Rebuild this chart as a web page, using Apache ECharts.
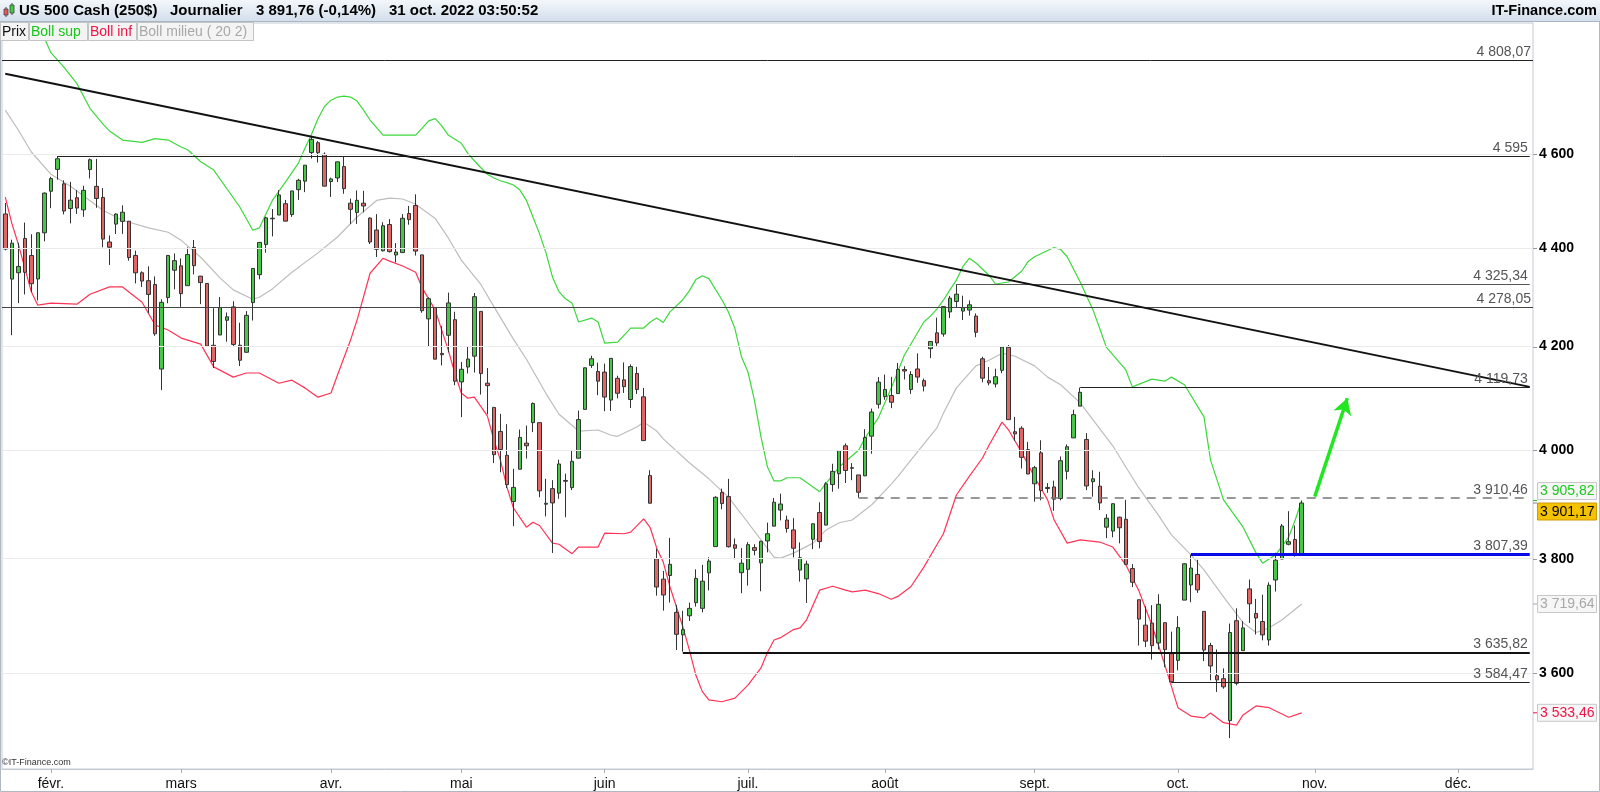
<!DOCTYPE html>
<html>
<head>
<meta charset="utf-8">
<script src="https://cdn.jsdelivr.net/npm/echarts@6.0.0/dist/echarts.min.js"></script>
<style>
html,body{margin:0;padding:0;background:#fff;}
#chart{width:1600px;height:792px;}
</style>
</head>
<body>
<div id="chart"></div>
<script>
// ---------- DATA ----------
const monthDays = {
  '2022-01':[21,24,25,26,27,28,31],
  '2022-02':[1,2,3,4,7,8,9,10,11,14,15,16,17,18,21,22,23,24,25,28],
  '2022-03':[1,2,3,4,7,8,9,10,11,14,15,16,17,18,21,22,23,24,25,28,29,30,31],
  '2022-04':[1,4,5,6,7,8,11,12,13,14,18,19,20,21,22,25,26,27,28,29],
  '2022-05':[2,3,4,5,6,9,10,11,12,13,16,17,18,19,20,23,24,25,26,27,30,31],
  '2022-06':[1,2,3,6,7,8,9,10,13,14,15,16,17,20,21,22,23,24,27,28,29,30],
  '2022-07':[1,4,5,6,7,8,11,12,13,14,15,18,19,20,21,22,25,26,27,28,29],
  '2022-08':[1,2,3,4,5,8,9,10,11,12,15,16,17,18,19,22,23,24,25,26,29,30,31],
  '2022-09':[1,2,5,6,7,8,9,12,13,14,15,16,19,20,21,22,23,26,27,28,29,30],
  '2022-10':[3,4,5,6,7,10,11,12,13,14,17,18,19,20,21,24,25,26,27,28,31],
  '2022-11':[1,2,3,4,7,8,9,10,11,14,15,16,17,18,21,22,23,24,25,28,29,30],
  '2022-12':[1,2,5,6,7,8,9,12,13,14,15,16]
};
const monthNames = ['janv.','févr.','mars','avr.','mai','juin','juil.','août','sept.','oct.','nov.','déc.'];

// daily candles [open, high, low, close], from 2022-01-21 to 2022-10-28
const candles = [
[4471.38,4494.52,4395.34,4397.94],[4336,4417.35,4222.62,4410.13],[4349,4411.01,4287.11,4362],[4420,4453.23,4304.80,4349.93],
[4384.57,4428.74,4309.50,4326.51],[4336.19,4432.72,4292.46,4431.85],[4431.79,4516.89,4414.02,4515.55],
[4519.57,4550.49,4483.53,4546.54],[4566.39,4595.31,4544.32,4589.38],[4535.41,4542.88,4470.39,4477.44],[4482.79,4539.66,4451.50,4500.53],
[4505.75,4521.86,4471.47,4483.87],[4480.02,4531.32,4465.40,4521.54],[4566,4590.03,4547.00,4587.18],[4530,4588.92,4484.31,4504.08],
[4506.27,4526.33,4401.41,4418.64],[4412.61,4426.22,4364.84,4401.67],[4450,4472.77,4429.28,4471.07],[4455.75,4489.55,4429.68,4475.01],
[4456.06,4456.06,4373.81,4380.26],[4384.57,4394.60,4327.22,4348.87],[4349,4352,4320,4332],[4332.74,4362.12,4267.11,4304.76],
[4324.93,4341.51,4221.51,4225.50],[4155.77,4294.73,4114.65,4288.70],[4298.38,4385.34,4286.83,4384.65],[4354.17,4388.84,4315.12,4373.94],
[4363.14,4378.45,4279.54,4306.26],[4322.56,4401.48,4322.56,4386.54],[4401.31,4416.78,4345.56,4363.49],[4342.12,4342.12,4284.98,4328.87],
[4327.01,4327.01,4199.85,4201.09],[4202.66,4276.94,4157.87,4170.70],[4223.10,4299.40,4223.10,4277.88],[4252.55,4268.28,4209.80,4259.52],
[4279.50,4291.01,4200.49,4204.31],[4202.75,4247.57,4161.72,4173.11],[4188.82,4271.05,4187.90,4262.45],[4288.14,4357.86,4251.99,4357.86],
[4345.11,4412.67,4335.65,4411.67],[4407.34,4465.40,4390.57,4463.12],[4462.40,4481.75,4424.30,4461.18],[4469.10,4522.00,4469.10,4511.61],
[4493.10,4501.07,4455.81,4456.24],[4469.98,4520.58,4465.17,4520.16],[4522.91,4546.03,4501.07,4543.06],[4541.09,4575.65,4517.69,4575.52],
[4602.86,4637.30,4589.66,4631.60],[4624.20,4627.77,4581.32,4602.45],[4599.02,4603.07,4530.41,4530.41],
[4540.32,4548.70,4507.57,4545.86],[4547.97,4583.50,4539.21,4582.64],[4572.45,4593.45,4514.17,4525.12],[4494.17,4503.94,4450.04,4481.15],
[4474.65,4521.16,4450.30,4500.21],[4494.15,4520.41,4474.60,4488.28],[4462.64,4464.35,4408.38,4412.53],[4437.59,4471.00,4381.34,4397.45],
[4394.30,4453.92,4392.70,4446.59],[4449.12,4460.46,4390.77,4392.59],[4385.63,4410.31,4370.30,4391.69],[4390.63,4471.03,4390.63,4462.21],
[4472.26,4488.29,4448.76,4459.45],[4489.17,4512.94,4384.47,4393.66],[4385.83,4385.83,4267.62,4271.78],[4255.34,4299.02,4200.82,4296.12],
[4278.14,4278.14,4175.04,4175.20],[4186.52,4240.71,4162.90,4183.96],[4222.58,4308.45,4188.63,4287.50],[4253.75,4269.68,4124.28,4131.93],
[4130.61,4169.81,4062.51,4155.38],[4159.78,4200.10,4147.08,4175.48],[4181.18,4307.66,4148.91,4300.17],[4270.43,4270.43,4106.01,4146.87],
[4128.17,4157.69,4067.91,4123.34],[4081.27,4081.27,3975.48,3991.24],[4035.18,4068.82,3958.17,4001.05],[3990.08,4049.09,3928.82,3935.18],
[3903.95,3964.80,3858.87,3930.08],[3963.90,4038.88,3963.90,4023.89],[4013.02,4046.46,3983.99,4008.01],[4052.00,4090.72,4033.93,4088.85],
[4051.98,4051.98,3911.91,3923.68],[3899.00,3945.96,3876.58,3900.79],[3927.76,3943.42,3810.32,3901.36],[3919.42,3981.88,3909.04,3973.75],
[3942.94,3955.68,3875.13,3941.48],[3929.59,3999.33,3925.03,3978.73],[3984.60,4075.14,3984.60,4057.84],[4077.43,4158.49,4077.43,4158.24],
[4163,4182,4158,4176],[4151.09,4168.34,4104.88,4132.15],
[4149.78,4166.54,4073.85,4101.23],[4095.41,4177.51,4074.37,4176.82],[4137.57,4142.67,4098.67,4108.54],[4134.72,4168.78,4109.18,4121.43],
[4096.47,4164.86,4080.19,4160.68],[4147.12,4160.14,4107.20,4115.77],[4101.65,4119.10,4017.17,4017.82],[3952,3962,3900.16,3900.86],
[3800,3818,3734.30,3749.63],[3763.52,3778.18,3708,3735.48],[3770,3837.56,3722.30,3789.99],[3705,3718,3639.77,3666.77],
[3665.90,3707.71,3636.87,3674.84],[3699,3722,3690,3712],[3722,3781,3715,3764.79],[3712,3789,3705,3759.89],
[3774.71,3802.58,3743.52,3795.73],[3821.75,3913.65,3821.75,3911.74],[3920.76,3927.72,3889.66,3900.11],[3913.00,3945.86,3820.14,3821.55],
[3825.09,3836.50,3799.02,3818.83],[3775,3818.99,3738.67,3792],
[3781.00,3829.82,3752.10,3825.33],[3820,3826,3806,3815],[3792.61,3832.19,3742.06,3831.39],[3831.98,3865.26,3811.39,3845.08],
[3858.85,3910.63,3858.85,3902.62],[3888.26,3918.50,3869.34,3899.38],[3870,3878,3847.22,3854.43],[3851.95,3873.41,3802.36,3818.80],
[3779.67,3829.44,3759.07,3801.78],[3763.99,3796.41,3721.56,3790.38],[3835,3863.62,3817.18,3863.16],[3883.79,3902.44,3818.63,3830.85],
[3860.73,3939.81,3860.73,3936.69],[3935.32,3974.13,3922.03,3959.90],[3955.47,3999.29,3927.64,3998.95],[4007.98,4012.44,3938.24,3961.63],
[3965.72,3975.30,3943.46,3966.84],[3953.22,3953.22,3910.74,3921.05],[3951.43,4039.56,3951.43,4023.61],[4026.13,4078.95,3992.97,4072.43],
[4087.33,4140.15,4079.22,4130.29],
[4102,4144.95,4096.02,4116],[4104.21,4140.47,4079.81,4091.19],[4107.96,4167.66,4107.96,4155.17],[4154.85,4161.29,4135.42,4151.94],
[4115.87,4151.58,4107.31,4145.19],[4155.93,4186.62,4128.97,4140.06],[4133.11,4137.30,4112.09,4122.47],[4196,4211.03,4177.26,4210.24],
[4227.40,4257.91,4201.41,4207.27],[4225.02,4280.47,4219.78,4280.15],[4269.37,4301.79,4256.90,4297.14],[4290.46,4325.28,4277.77,4305.20],
[4271,4302.18,4253.08,4278],[4273.13,4292.53,4261.98,4283.74],[4261,4266.31,4218.70,4228.48],[4176,4180,4129.86,4137.99],
[4133.09,4159.77,4124.03,4128.73],[4126.55,4156.56,4119.97,4140.77],[4153.26,4200.54,4147.59,4199.12],[4198.74,4203.04,4057.66,4057.66],
[4034.58,4062.99,4017.42,4030.61],[4041.25,4044.98,3965.21,3986.16],[4000.67,4015.37,3954.53,3955.00],
[3936.73,3970.23,3903.65,3966.85],[3994.66,4018.43,3906.21,3924.26],[3930,3938,3920,3928],[3930.89,3942.55,3886.75,3908.19],
[3909.43,3987.89,3906.03,3979.87],[3959.94,4010.50,3944.81,4006.18],[4022.94,4076.81,4022.94,4067.36],[4083.67,4119.73,4083.67,4110.41],
[4020,4032,3925,3932.69],[3940.73,3961.94,3912.88,3946.01],[3932.41,3959.14,3888.28,3901.35],[3857,3880.95,3837.08,3873.33],
[3849.91,3900.45,3838.50,3899.89],[3875.23,3876.01,3827.54,3855.93],[3871.40,3907.07,3789.49,3789.93],[3782.36,3790.28,3749.45,3757.99],
[3727.14,3727.14,3647.47,3693.23],[3682.72,3715.67,3644.76,3655.04],[3686.44,3717.53,3623.29,3647.29],[3651.94,3736.74,3640.61,3719.04],
[3687.01,3687.01,3610.40,3640.47],[3633.48,3671.44,3584.47,3585.62],
[3622,3698.35,3604.93,3678.43],[3726.46,3791.92,3726.46,3790.93],[3753.25,3807.39,3722.66,3783.28],[3771.97,3797.93,3739.22,3744.52],
[3706.74,3706.74,3620.73,3639.66],[3647.51,3652.17,3588.10,3612.39],[3595.86,3640.66,3568.45,3588.84],[3590.83,3608.34,3573.86,3577.03],
[3520.37,3685.41,3491.58,3669.91],[3690.41,3712.00,3579.68,3583.07],[3638.65,3689.73,3638.65,3677.95],[3746.26,3762.79,3686.53,3719.98],
[3703.11,3728.58,3666.51,3695.16],[3689.05,3736.00,3656.44,3665.78],[3657.10,3757.89,3647.42,3752.75],[3762.01,3810.74,3741.65,3797.34],
[3799.44,3862.85,3799.44,3859.11],[3825.97,3886.15,3824.07,3830.60],[3834.69,3859.95,3803.79,3807.30],[3808.26,3905.42,3808.26,3901.17]
];

// Bollinger bands: [bar number, value]
const bollSup = [[0,4890],[2,4896],[4,4898],[5,4893],[7,4825],[9,4792],[11,4755],[13,4700],[15,4665],[16,4650],[18,4630],[21,4625],[23,4633],[25,4630],[27,4615],[28,4609],[30,4583],[32,4565],[36,4486],[38,4437],[39,4442],[41,4500],[43,4539],[45,4580],[46,4612],[47,4642],[48,4677],[49,4704],[50,4718],[51,4725],[52,4727],[53,4725],[54,4716],[55,4696],[56,4674],[58,4641],[60,4641],[63,4641],[64,4656],[65,4672],[66,4677],[67,4661],[68,4641],[70,4623],[71,4601],[72,4585],[73,4570],[74,4556],[75,4548],[76,4542],[77,4538],[78,4533],[79,4522],[80,4500],[81,4465],[82,4430],[83,4390],[84,4340],[85,4310],[86,4296],[87,4287],[88,4249],[90,4257],[91,4249],[92,4207],[94,4209],[96,4237],[98,4237],[99,4249],[100,4257],[101,4248],[102,4269],[104,4294],[105,4312],[106,4335],[107,4343],[108,4337],[110,4294],[111,4269],[112,4236],[113,4180],[114,4150],[115,4095],[116,4025],[117,3968],[118,3942],[119,3942],[120,3948],[122,3948],[125,3922],[126,3938],[128,3968],[131,4000],[132,4023],[134,4061],[136,4119],[138,4183],[141,4249],[142,4261],[143,4275],[144,4293],[145,4314],[146,4334],[147,4362],[148,4379],[149,4369],[151,4344],[152,4326],[154,4330],[156,4352],[157,4372],[158,4382],[160,4395],[161,4401],[162,4397],[163,4382],[165,4330],[167,4272],[168,4236],[169,4199],[172,4154],[173,4121],[176,4136],[178,4132],[179,4140],[181,4125],[184,4063],[185,3981],[186,3944],[187,3907],[190,3857],[192,3810],[193,3792],[195,3807],[197,3839],[198,3870],[199,3905.82]];
const bollMid = [[0,4696],[2,4652],[4,4604],[7,4556],[9,4539],[10,4530],[15,4479],[18,4458],[22,4442],[25,4433],[27,4416],[30,4381],[33,4338],[35,4314],[38,4295],[39,4299],[41,4316],[44,4350],[48,4390],[51,4423],[54,4465],[57,4500],[59,4505],[61,4503],[63,4492],[66,4462],[68,4421],[70,4375],[73,4325],[75,4280],[78,4215],[80,4175],[83,4108],[85,4068],[88,4036],[91,4038],[93,4028],[94,4026],[97,4044],[98,4053],[100,4036],[101,4021],[105,3976],[108,3946],[111,3912],[113,3881],[116,3834],[118,3803],[119,3801],[121,3810],[124,3828],[126,3852],[128,3865],[130,3870],[133,3898],[136,3936],[137,3950],[139,3981],[143,4042],[144,4070],[146,4119],[149,4162],[151,4173],[153,4187],[155,4181],[158,4162],[160,4140],[162,4125],[165,4090],[167,4057],[170,4008],[172,3968],[174,3929],[177,3879],[179,3843],[182,3807],[184,3780],[187,3732],[190,3687],[192,3670],[194,3678],[196,3692],[199,3719.64]];
const bollInf = [[0,4507],[1,4452],[2,4408],[3,4359],[4,4310],[5,4283],[7,4287],[11,4285],[13,4305],[16,4320],[18,4320],[21,4289],[23,4243],[25,4233],[27,4217],[30,4205],[32,4160],[35,4140],[37,4148],[39,4148],[42,4128],[44,4134],[46,4119],[48,4101],[50,4109],[51,4144],[53,4213],[54,4253],[56,4348],[58,4379],[59,4373],[61,4363],[63,4350],[64,4318],[66,4273],[68,4193],[69,4148],[70,4109],[71,4099],[72,4101],[74,4065],[75,4019],[76,3981],[77,3931],[78,3892],[80,3857],[81,3866],[82,3860],[84,3828],[85,3826],[87,3809],[88,3821],[91,3821],[92,3846],[95,3845],[96,3848],[98,3872],[99,3856],[100,3819],[101,3794],[102,3751],[104,3680],[105,3640],[106,3597],[107,3569],[108,3555],[110,3552],[112,3558],[114,3580],[116,3609],[117,3636],[118,3657],[119,3661],[121,3675],[122,3678],[123,3692],[125,3744],[127,3751],[129,3744],[130,3741],[132,3744],[134,3738],[136,3728],[137,3733],[139,3750],[141,3785],[143,3825],[144,3845],[146,3916],[148,3951],[150,3985],[151,4009],[153,4053],[154,4038],[156,3996],[158,3949],[160,3907],[161,3870],[163,3828],[165,3834],[168,3830],[170,3821],[172,3789],[174,3743],[176,3683],[178,3614],[180,3542],[182,3528],[184,3525],[185,3533],[187,3517],[189,3513],[190,3530],[192,3545],[194,3542],[197,3526],[199,3533.46]];

const priceTicks = [3600, 3800, 4000, 4200, 4400, 4600];
const priceTickLabels = ['3 600', '3 800', '4 000', '4 200', '4 400', '4 600'];

const levelValues = [4808.07, 4595, 4325.34, 4278.05, 4119.73, 3910.46, 3807.39, 3635.82, 3584.47];
const levelLabels = ['4 808,07', '4 595', '4 325,34', '4 278,05', '4 119,73', '3 910,46', '3 807,39', '3 635,82', '3 584,47'];
const levelStart  = [null, '2022-02-02', '2022-08-16', null, '2022-09-12', '2022-07-26', '2022-10-05', '2022-06-17', '2022-09-30'];

const trendLine = [['2022-01-21', 4777], ['2022-12-16', 4121]];
const arrowPath = [['2022-11-01', 3913], ['2022-11-08', 4099]];

const lastValues = [3905.82, 3901.17, 3719.64, 3533.46];
const lastLabels = ['3 905,82', '3 901,17', '3 719,64', '3 533,46'];

const headerTexts = ['US 500 Cash (250$)', 'Journalier', '3 891,76 (-0,14%)', '31 oct. 2022 03:50:52'];
const legendTexts = ['Prix', 'Boll sup', 'Boll inf', 'Boll milieu ( 20 2)'];

// ---------- BUILD ----------
const dates = [];
Object.keys(monthDays).forEach(m => monthDays[m].forEach(d => dates.push(m + '-' + String(d).padStart(2, '0'))));
const lastDate = dates[dates.length - 1];

const candleData = candles.map(r => [r[0], r[3], r[2], r[1]]);
const toSeries = arr => arr.map(p => [dates[p[0]], p[1]]);

function isMonthStart(idx) {
  if (idx === 0) return false;
  return dates[idx].slice(0, 7) !== dates[idx - 1].slice(0, 7);
}

const FONT = '"Liberation Sans", Arial, sans-serif';

const levelStyles = [
  {color:'#222', width:1, type:'solid'},
  {color:'#222', width:1, type:'solid'},
  {color:'#555', width:1.2, type:'solid'},
  {color:'#444', width:1.2, type:'solid'},
  {color:'#222', width:1, type:'solid'},
  {color:'#777', width:1.5, type:[9, 7]},
  {color:'#0a0ae8', width:3, type:'solid'},
  {color:'#111', width:2, type:'solid'},
  {color:'#222', width:1, type:'solid'}
];

const mlData = [];
priceTicks.forEach((v, i) => {
  mlData.push({
    yAxis: v,
    lineStyle: {color:'#ebebeb', width:1, type:'solid'},
    label: {show:true, position:'end', distance:6, formatter: priceTickLabels[i],
            color:'#000', fontWeight:'bold', fontSize:14, fontFamily: FONT}
  });
});
levelValues.forEach((v, i) => {
  const label = {show:true, position:'insideEndTop', distance:[2, 1], formatter: levelLabels[i],
                 color:'#555', fontSize:14, fontFamily: FONT};
  if (levelStart[i] === null) {
    mlData.push({yAxis: v, lineStyle: levelStyles[i], label: label});
  } else {
    mlData.push([{coord:[levelStart[i], v], lineStyle: levelStyles[i], label: label}, {coord:[lastDate, v]}]);
  }
});
mlData.push([{coord: trendLine[0], lineStyle:{color:'#111', width:2, type:'solid'}, label:{show:false}}, {coord: trendLine[1]}]);
mlData.push([{coord: arrowPath[0], symbol:'none', lineStyle:{color:'#22e622', width:3.5, type:'solid'}, label:{show:false}},
             {coord: arrowPath[1], symbol:'arrow', symbolSize:[14, 16]}]);

const chart = echarts.init(document.getElementById('chart'), null, {renderer:'canvas'});

const option = {
  animation: false,
  backgroundColor: '#ffffff',
  grid: {left:2, right:67, top:23, bottom:23, show:true, borderColor:'#c3cad2', borderWidth:1, backgroundColor:'#fff'},
  xAxis: {
    type: 'category',
    data: dates,
    boundaryGap: true,
    axisLine: {show:true, lineStyle:{color:'#c3cad2'}},
    axisTick: {show:true, interval: isMonthStart, alignWithLabel:true, length:4, lineStyle:{color:'#aaa'}},
    axisLabel: {interval: isMonthStart, margin:8, color:'#111', fontSize:14, fontFamily: FONT,
                formatter: v => monthNames[parseInt(v.slice(5, 7), 10) - 1]},
    splitLine: {show:false}
  },
  yAxis: {
    type: 'log',
    logBase: 10,
    position: 'right',
    min: 3441,
    max: 4893,
    axisLine: {show:false},
    axisTick: {show:false},
    axisLabel: {show:false},
    splitLine: {show:false}
  },
  series: [
    {name:'Boll milieu', type:'line', data: toSeries(bollMid), showSymbol:false, symbol:'none',
     lineStyle:{color:'#bdbdbd', width:1.2}, silent:true, z:2},
    {name:'Boll sup', type:'line', data: toSeries(bollSup), showSymbol:false, symbol:'none',
     lineStyle:{color:'#3cd83c', width:1.2}, silent:true, z:2},
    {name:'Boll inf', type:'line', data: toSeries(bollInf), showSymbol:false, symbol:'none',
     lineStyle:{color:'#ff3355', width:1.2}, silent:true, z:2},
    {name:'Prix', type:'candlestick', data: candleData, barWidth:4, z:3,
     itemStyle:{color:'#46c846', color0:'#e06666', borderColor:'#333', borderColor0:'#333', borderWidth:1},
     markLine:{silent:true, symbol:['none','none'], animation:false, precision:2, data: mlData}
    }
  ]
};
chart.setOption(option);

// ---------- annotations (header, legend, value boxes) ----------
const yPix = v => chart.convertToPixel({yAxisIndex:0}, v);
const g = [];
g.push({type:'rect', shape:{x:0.5, y:0.5, width:1599, height:791}, style:{fill:'none', stroke:'#aeb8c2', lineWidth:1}, z:1, silent:true});
g.push({type:'rect', shape:{x:0, y:0, width:1600, height:21},
        style:{fill:{type:'linear', x:0, y:0, x2:0, y2:1, colorStops:[{offset:0, color:'#f3f7fb'}, {offset:1, color:'#d3dfeb'}]}}, z:50, silent:true});
g.push({type:'line', shape:{x1:0, y1:21.5, x2:1600, y2:21.5}, style:{stroke:'#a8b5c2', lineWidth:1}, z:51, silent:true});
g.push({type:'line', shape:{x1:6, y1:7, x2:6, y2:17}, style:{stroke:'#444', lineWidth:1}, z:52});
g.push({type:'rect', shape:{x:4, y:9, width:4, height:6}, style:{fill:'#e05a5a', stroke:'#444', lineWidth:0.8}, z:53});
g.push({type:'line', shape:{x1:12, y1:3, x2:12, y2:15}, style:{stroke:'#444', lineWidth:1}, z:52});
g.push({type:'rect', shape:{x:10, y:5, width:4, height:8}, style:{fill:'#3ccc3c', stroke:'#444', lineWidth:0.8}, z:53});
const headerX = [19, 170, 256, 389];
headerTexts.forEach((t, i) => {
  g.push({type:'text', x: headerX[i], y: 11, z:55, silent:true,
          style:{text:t, fill:'#000', font:'bold 15px ' + FONT, align:'left', verticalAlign:'middle'}});
});
g.push({type:'text', x:1597, y:11, z:55, silent:true,
        style:{text:'IT-Finance.com', fill:'#000', font:'bold 14.5px ' + FONT, align:'right', verticalAlign:'middle'}});
const legendX = [0, 29, 88, 137, 254];
const legendColors = ['#111', '#12c812', '#f01446', '#a8a8a8'];
legendTexts.forEach((t, i) => {
  g.push({type:'rect', shape:{x: legendX[i] + 0.5, y: 22.5, width: legendX[i + 1] - legendX[i] - 1, height: 18},
          style:{fill:'#f4f4f4', stroke:'#c4c4c4', lineWidth:1}, z:40, silent:true});
  g.push({type:'text', x: legendX[i] + 2, y: 32, z:41, silent:true,
          style:{text:t, fill:legendColors[i], font:'14px ' + FONT, align:'left', verticalAlign:'middle'}});
});
g.push({type:'text', x:2, y:763, z:41, silent:true,
        style:{text:'©IT-Finance.com', fill:'#333', font:'9px ' + FONT, align:'left', verticalAlign:'middle'}});
priceTicks.forEach(v => {
  const y = Math.round(yPix(v)) + 0.5;
  g.push({type:'line', shape:{x1:1533, y1:y, x2:1537, y2:y}, style:{stroke:'#999', lineWidth:1}, z:41, silent:true});
});
const boxText = ['#20c820', '#000', '#a8a8a8', '#f01446'];
const boxFill = ['#f6f6f6', '#f5c200', '#f6f6f6', '#f6f6f6'];
const boxStroke = ['#c8c8c8', '#d09a00', '#c8c8c8', '#c8c8c8'];
const boxNudge = [-9.5, 8.5, 0, 0];
lastValues.forEach((v, i) => {
  const y = yPix(v);
  const cy = y + boxNudge[i];
  g.push({type:'line', shape:{x1:1533, y1:y, x2:1537, y2:y}, style:{stroke: i === 1 ? '#888' : boxText[i], lineWidth:1}, z:41, silent:true});
  g.push({type:'rect', shape:{x:1537.5, y: cy - 8.5, width:59, height:17},
          style:{fill: boxFill[i], stroke: boxStroke[i], lineWidth:1}, z:42, silent:true});
  g.push({type:'text', x:1540, y: cy + 0.5, z:43, silent:true,
          style:{text: lastLabels[i], fill: boxText[i], font:'14px ' + FONT, align:'left', verticalAlign:'middle'}});
});
chart.setOption({graphic: g});
</script>
</body>
</html>
